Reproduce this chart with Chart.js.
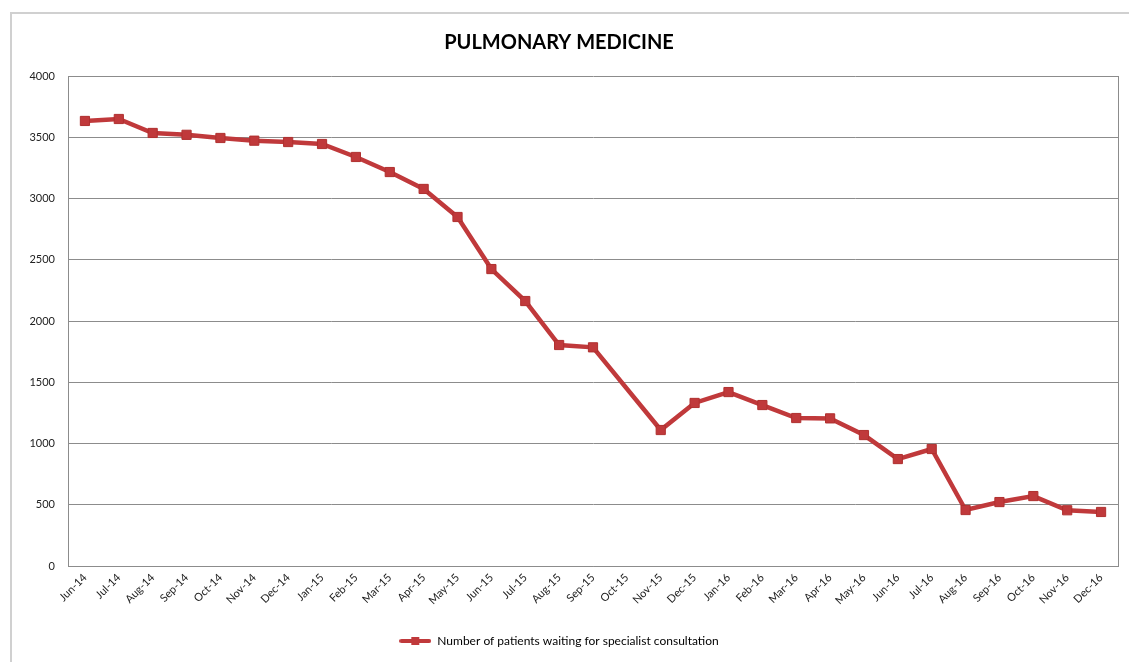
<!DOCTYPE html>
<html>
<head>
<meta charset="utf-8">
<script src="https://cdn.jsdelivr.net/npm/chart.js@4.4.0/dist/chart.umd.min.js"></script>
<style>
  html, body { margin: 0; padding: 0; background: #fff; }
  #wrap { position: relative; width: 1129px; height: 662px; }
  #frame { position: absolute; left: 10px; top: 12px; right: 0; bottom: 0; border-left: 2px solid #d0d0d0; border-top: 2px solid #d0d0d0; pointer-events: none; }
  canvas { position: absolute; left: 0; top: 0; }
</style>
</head>
<body>
<div id="wrap">
  <canvas id="c" width="1129" height="662"></canvas>
  <div id="frame"></div>
</div>
<script>
const categories = ["Jun-14","Jul-14","Aug-14","Sep-14","Oct-14","Nov-14","Dec-14","Jan-15","Feb-15","Mar-15","Apr-15","May-15","Jun-15","Jul-15","Aug-15","Sep-15","Oct-15","Nov-15","Dec-15","Jan-16","Feb-16","Mar-16","Apr-16","May-16","Jun-16","Jul-16","Aug-16","Sep-16","Oct-16","Nov-16","Dec-16"];
const waitingPatients = [3633,3649,3535,3520,3494,3472,3461,3445,3339,3216,3078,2849,2424,2163,1804,1785,null,1110,1331,1420,1314,1208,1205,1069,873,955,457,522,571,455,441];
const seriesLabel = "Number of patients waiting for specialist consultation";
const chartTitle = "PULMONARY MEDICINE";

const lineColor = '#c0393b';

// legend symbol: line with square marker
const sym = document.createElement('canvas');
sym.width = 32; sym.height = 10;
(function(){
  const g = sym.getContext('2d');
  g.strokeStyle = lineColor; g.lineWidth = 4; g.lineCap = 'round';
  g.beginPath(); g.moveTo(2,5); g.lineTo(30,5); g.stroke();
  g.fillStyle = lineColor; g.fillRect(12,1,8,8);
})();

const frameBox = {
  id: 'frameBox',
  afterDraw(chart) {
    const a = chart.chartArea, ctx = chart.ctx;
    ctx.save();
    ctx.strokeStyle = '#8c8c8c'; ctx.lineWidth = 1;
    ctx.beginPath();
    ctx.moveTo(Math.round(a.right)+0.5, a.top);
    ctx.lineTo(Math.round(a.right)+0.5, a.bottom);
    ctx.stroke();
    ctx.restore();
  }
};

new Chart(document.getElementById('c'), {
  type: 'line',
  data: {
    labels: categories,
    datasets: [{
      label: seriesLabel,
      data: waitingPatients,
      borderColor: lineColor,
      backgroundColor: lineColor,
      borderWidth: 4.5,
      pointStyle: 'rect',
      pointRadius: 6.5,
      pointHoverRadius: 6.5,
      pointBackgroundColor: lineColor,
      pointBorderColor: '#b0302f',
      pointBorderWidth: 1,
      spanGaps: true,
      tension: 0
    }]
  },
  options: {
    responsive: false,
    animation: false,
    events: [],
    layout: { padding: { left: 0, right: 11, top: 0, bottom: 5 } },
    plugins: {
      title: {
        display: true,
        text: chartTitle,
        color: '#000',
        font: { family: 'Lato, "Open Sans", sans-serif', size: 20, weight: 'bold', lineHeight: 1.2 },
        padding: { top: 31, bottom: 21 }
      },
      legend: {
        display: true,
        position: 'bottom',
        labels: {
          usePointStyle: true,
          pointStyle: sym,
          pointStyleWidth: 32,
          boxWidth: 32,
          color: '#222',
          font: { family: 'Lato, "Open Sans", sans-serif', size: 12 },
          padding: 10,
          generateLabels(chart) {
            return [{ text: seriesLabel, pointStyle: sym, fillStyle: lineColor, strokeStyle: lineColor, lineWidth: 0, datasetIndex: 0, hidden: false }];
          }
        }
      },
      tooltip: { enabled: false }
    },
    scales: {
      x: {
        offset: true,
        grid: { display: false, drawTicks: false },
        border: { display: true, color: '#8c8c8c', width: 1 },
        ticks: {
          autoSkip: false,
          maxRotation: 45,
          minRotation: 45,
          padding: 5,
          color: '#222',
          font: { family: 'Lato, "Open Sans", sans-serif', size: 11 }
        },
        afterFit(s) { s.height = 59; }
      },
      y: {
        min: 0,
        max: 4000,
        ticks: {
          stepSize: 500,
          padding: 13,
          color: '#222',
          font: { family: 'Lato, "Open Sans", sans-serif', size: 11 },
          callback: (v) => String(v)
        },
        grid: { color: '#8c8c8c', lineWidth: 1, drawTicks: false },
        border: { display: true, color: '#8c8c8c', width: 1 },
        afterFit(s) { s.width = 68; }
      }
    }
  },
  plugins: [frameBox]
});
</script>
</body>
</html>
